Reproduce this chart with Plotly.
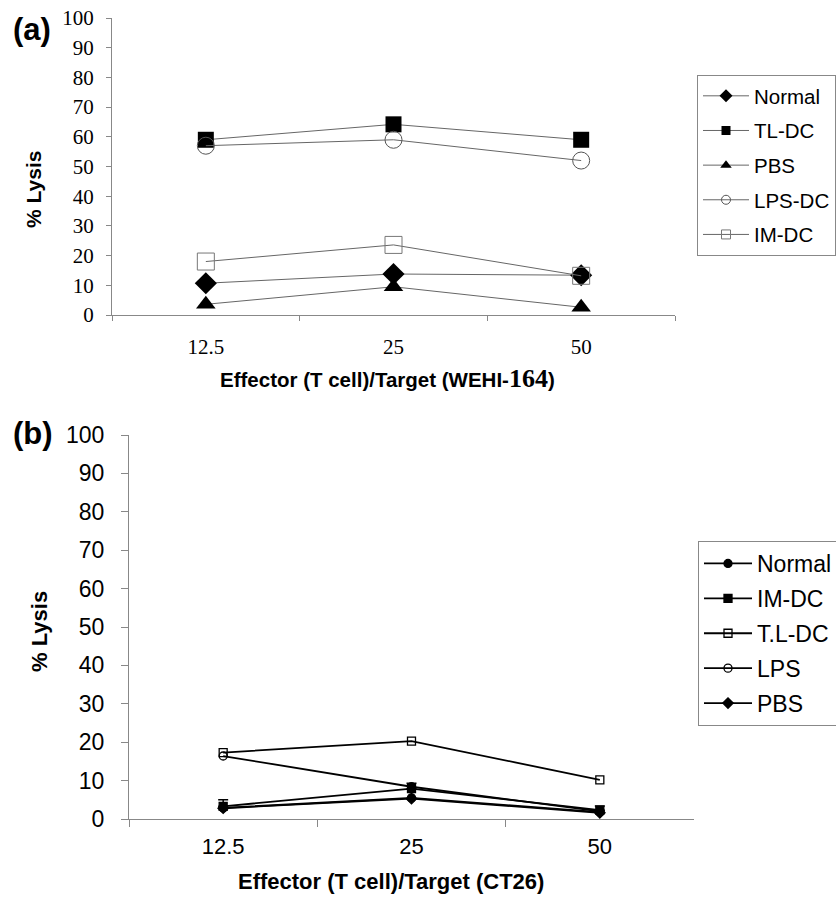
import plotly.graph_objects as go

W, H = 836, 903

# ---- data ----
ratios = ["12.5", "25", "50"]

# panel (a) WEHI-164
a_names = ["Normal", "TL-DC", "PBS", "LPS-DC", "IM-DC"]
a_normal = [10.7, 13.8, 13.4]
a_tldc = [59.0, 64.2, 59.0]
a_pbs = [3.6, 9.5, 2.6]
a_lpsdc = [57.0, 59.0, 52.0]
a_imdc = [18.0, 23.6, 13.2]

# panel (b) CT26
b_names = ["Normal", "IM-DC", "T.L-DC", "LPS", "PBS"]
b_normal = [2.9, 5.5, 1.8]
b_imdc = [3.3, 7.9, 2.3]
b_imdc_err = [1.7, 1.4, 1.1]
b_tldc = [17.3, 20.3, 10.2]
b_lps = [16.4, 8.4, 2.0]
b_pbs = [2.8, 5.3, 1.6]

yticks = [0, 10, 20, 30, 40, 50, 60, 70, 80, 90, 100]


def px_x(p):
    return p / W


def px_y(p):
    return 1 - p / H


fig = go.Figure()

# ---- panel (a) ----
a_series = [
    (a_names[0], a_normal, "diamond", "black", 17, 0, 10),
    (a_names[1], a_tldc, "square", "black", 16, 0, 9),
    (a_names[2], a_pbs, "triangle-up", "black", 17, 0, 10),
    (a_names[3], a_lpsdc, "circle-open", "#555555", 17, 1, 9),
    (a_names[4], a_imdc, "square-open", "#777777", 17, 1, 9),
]
for i, (nm, ys, sym, col, sz, lw, lsz) in enumerate(a_series):
    fig.add_trace(go.Scatter(
        x=ratios, y=ys, name=nm, mode="lines+markers",
        line=dict(color="#666666", width=1),
        marker=dict(symbol=sym, color=col, size=sz,
                    line=dict(color=col, width=lw)),
        xaxis="x", yaxis="y", cliponaxis=False, showlegend=False,
    ))
    # legend entry (smaller symbol, as in the original key)
    fig.add_trace(go.Scatter(
        x=[None], y=[None], name=nm, mode="lines+markers",
        line=dict(color="#666666", width=1),
        marker=dict(symbol=sym, color=col, size=lsz,
                    line=dict(color=col, width=lw)),
        xaxis="x", yaxis="y", legend="legend", legendgroup="a%d" % i,
        showlegend=True,
    ))

# ---- panel (b) ----
b_series = [
    (b_names[0], b_normal, "circle", "black", None),
    (b_names[1], b_imdc, "square", "black", b_imdc_err),
    (b_names[2], b_tldc, "square-open", "black", None),
    (b_names[3], b_lps, "circle-open", "black", None),
    (b_names[4], b_pbs, "diamond", "black", None),
]
for i, (nm, ys, sym, col, err) in enumerate(b_series):
    kw = {}
    if err is not None:
        kw["error_y"] = dict(type="data", array=err, arrayminus=[0] * len(err),
                             color="black", thickness=1.5, width=5)
    fig.add_trace(go.Scatter(
        x=ratios, y=ys, name=nm, mode="lines+markers",
        line=dict(color="black", width=1.8),
        marker=dict(symbol=sym, color=col, size=8,
                    line=dict(color=col, width=1.3)),
        xaxis="x2", yaxis="y2", legend="legend2", legendgroup="b%d" % i,
        cliponaxis=False, **kw,
    ))

times = "Times New Roman, Liberation Serif, serif"
arial = "Arial, Liberation Sans, sans-serif"

xcommon = dict(type="category", categoryorder="array", categoryarray=ratios,
               range=[-0.5, 2.5], tickson="boundaries", ticks="outside",
               showline=True, linecolor="#888888", tickcolor="#888888",
               showgrid=False, zeroline=False, fixedrange=True)
ycommon = dict(range=[0, 100], tickvals=yticks, ticks="outside",
               showline=True, linecolor="#888888", tickcolor="#888888",
               showgrid=False, zeroline=False, fixedrange=True)

fig.update_layout(
    width=W, height=H,
    margin=dict(l=0, r=0, t=0, b=0, autoexpand=False),
    paper_bgcolor="white", plot_bgcolor="white",
    xaxis=dict(domain=[px_x(112), px_x(675)], anchor="y",
               ticklen=5, ticklabelstandoff=13, linewidth=1,
               tickfont=dict(family=times, size=21, color="black"), **xcommon),
    yaxis=dict(domain=[px_y(315), px_y(18)], anchor="x",
               ticklen=5, ticklabelstandoff=8, linewidth=1,
               tickfont=dict(family=times, size=21, color="black"), **ycommon),
    xaxis2=dict(domain=[px_x(129), px_x(694)], anchor="y2",
                ticklen=7, ticklabelstandoff=8, linewidth=1,
                tickfont=dict(family=arial, size=22, color="black"), **xcommon),
    yaxis2=dict(domain=[px_y(819), px_y(435)], anchor="x2",
                ticklen=7, ticklabelstandoff=12, linewidth=1,
                tickfont=dict(family=arial, size=23, color="black"), **ycommon),
    legend=dict(x=px_x(697), y=px_y(75), xanchor="left", yanchor="top",
                bordercolor="#888888", borderwidth=1, bgcolor="white",
                font=dict(family=arial, size=20.5, color="black"),
                tracegroupgap=5, itemwidth=46),
    legend2=dict(x=px_x(698), y=px_y(541), xanchor="left", yanchor="top",
                 bordercolor="#888888", borderwidth=1, bgcolor="white",
                 font=dict(family=arial, size=23, color="black"),
                 tracegroupgap=2, itemwidth=48),
    showlegend=True,
)

ann = [
    dict(text="<b>(a)</b>", x=px_x(11), y=px_y(30), xanchor="left", yanchor="middle",
         font=dict(family=arial, size=31, color="black")),
    dict(text="<b>(b)</b>", x=px_x(11), y=px_y(434), xanchor="left", yanchor="middle",
         font=dict(family=arial, size=31, color="black")),
    dict(text="<b>% Lysis</b>", x=px_x(33), y=px_y(190), textangle=-90,
         xanchor="center", yanchor="middle",
         font=dict(family=arial, size=21, color="black")),
    dict(text="<b>% Lysis</b>", x=px_x(39), y=px_y(632), textangle=-90,
         xanchor="center", yanchor="middle",
         font=dict(family=arial, size=22, color="black")),
    dict(text="<b>Effector (T cell)/Target (WEHI-<span style='font-family:Times New Roman, Liberation Serif, serif;font-size:26px'>164</span>)</b>",
         x=px_x(387), y=px_y(378), xanchor="center", yanchor="middle",
         font=dict(family=arial, size=20.5, color="black")),
    dict(text="<b>Effector (T cell)/Target (CT26)</b>",
         x=px_x(391), y=px_y(881), xanchor="center", yanchor="middle",
         font=dict(family=arial, size=22, color="black")),
]
for a in ann:
    a.update(xref="paper", yref="paper", showarrow=False)
fig.update_layout(annotations=ann)

fig.write_html("out.html", config={"displayModeBar": False})
